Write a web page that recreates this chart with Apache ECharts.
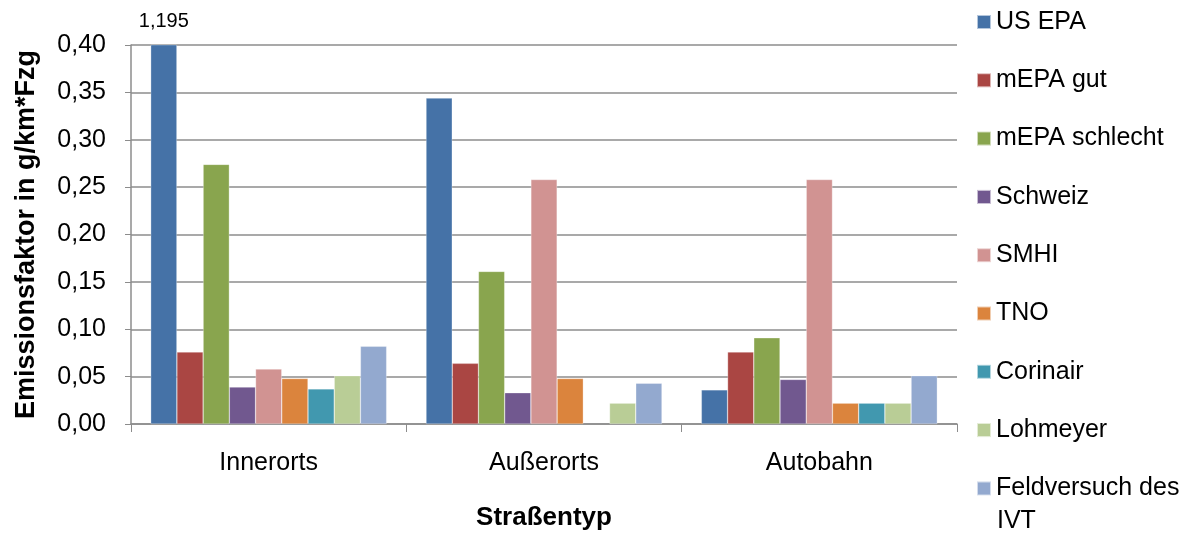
<!DOCTYPE html>
<html>
<head>
<meta charset="utf-8">
<script src="https://cdn.jsdelivr.net/npm/echarts@6/dist/echarts.min.js"></script>
<style>
  html, body { margin: 0; padding: 0; background: #fff; }
  #chart { width: 1200px; height: 540px; }
</style>
</head>
<body>
<div id="chart"></div>
<script>
var categories = ['Innerorts', 'Außerorts', 'Autobahn'];
var seriesNames = ['US EPA', 'mEPA gut', 'mEPA schlecht', 'Schweiz', 'SMHI', 'TNO', 'Corinair', 'Lohmeyer', 'Feldversuch des IVT'];
var colors = ['#4572A7', '#AA4643', '#89A54E', '#71588F', '#D19392', '#DB843D', '#4198AF', '#B9CD96', '#93A9CF'];

var usEpa = [1.195, 0.344, 0.036];
var mEpaGut = [0.076, 0.064, 0.076];
var mEpaSchlecht = [0.274, 0.161, 0.091];
var schweiz = [0.039, 0.033, 0.047];
var smhi = [0.058, 0.258, 0.258];
var tno = [0.048, 0.048, 0.022];
var corinair = [0.037, null, 0.022];
var lohmeyer = [0.051, 0.022, 0.022];
var feldversuch = [0.082, 0.043, 0.051];

var yTicks = { min: 0, max: 0.4, interval: 0.05 };

var allData = [usEpa, mEpaGut, mEpaSchlecht, schweiz, smhi, tno, corinair, lohmeyer, feldversuch];

var font = 'Liberation Sans, Arial, sans-serif';

var myChart = echarts.init(document.getElementById('chart'));

// bars above the axis max get cut off, with their real value written on top
var series = seriesNames.map(function (name, i) {
    return {
        name: name,
        type: 'bar',
        barGap: '0%',
        barCategoryGap: '14.3%',
        clip: true,
        itemStyle: { color: colors[i], borderColor: 'rgba(255,255,255,0.6)', borderWidth: 0.5 },
        data: allData[i].map(function (v) {
            if (v !== null && v > yTicks.max) {
                return {
                    value: v,
                    label: {
                        show: true,
                        position: 'top',
                        distance: 13,
                        fontFamily: font,
                        fontSize: 20,
                        color: '#000',
                        formatter: function (p) { return String(p.value).replace('.', ','); }
                    }
                };
            }
            return v;
        })
    };
});

myChart.setOption({
    animation: false,
    textStyle: { fontFamily: font },
    legend: {
        orient: 'vertical',
        left: 976,
        top: 6,
        height: 700,
        padding: 0,
        itemWidth: 14,
        itemHeight: 14,
        itemGap: 26.3,
        icon: 'rect',
        textStyle: { fontSize: 25, color: '#000', fontFamily: font, lineHeight: 32 },
        // the last legend entry wraps; its second line is drawn below as text
        formatter: function (name) {
            return name === 'Feldversuch des IVT' ? 'Feldversuch des' : name;
        },
        data: seriesNames
    },
    graphic: [{
        type: 'text',
        x: 997,
        y: 521,
        style: {
            text: 'IVT',
            fontSize: 25,
            fontFamily: font,
            fill: '#000',
            verticalAlign: 'middle'
        }
    }],
    grid: {
        left: 131,
        right: 243,
        top: 45,
        bottom: 116
    },
    xAxis: {
        type: 'category',
        data: categories,
        name: 'Straßentyp',
        nameLocation: 'middle',
        nameGap: 81,
        nameTextStyle: { fontSize: 26, fontWeight: 'bold', color: '#000', fontFamily: font },
        axisLine: { lineStyle: { color: '#8c8c8c', width: 1.5 } },
        axisTick: { show: true, length: 8, lineStyle: { color: '#8c8c8c' } },
        axisLabel: { fontSize: 25, color: '#000', margin: 27, fontFamily: font }
    },
    yAxis: {
        type: 'value',
        min: yTicks.min,
        max: yTicks.max,
        interval: yTicks.interval,
        name: 'Emissionsfaktor in g/km*Fzg',
        nameLocation: 'middle',
        nameGap: 91,
        nameTextStyle: { fontSize: 27, fontWeight: 'bold', color: '#000', fontFamily: font },
        axisLine: { show: true, lineStyle: { color: '#8c8c8c', width: 1.5 } },
        axisTick: { show: true, length: 6, lineStyle: { color: '#8c8c8c' } },
        axisLabel: {
            fontSize: 25,
            color: '#000',
            margin: 25,
            fontFamily: font,
            formatter: function (v) { return v.toFixed(2).replace('.', ','); }
        },
        splitLine: { lineStyle: { color: '#8c8c8c', width: 1.5 } }
    },
    series: series
});
</script>
</body>
</html>
